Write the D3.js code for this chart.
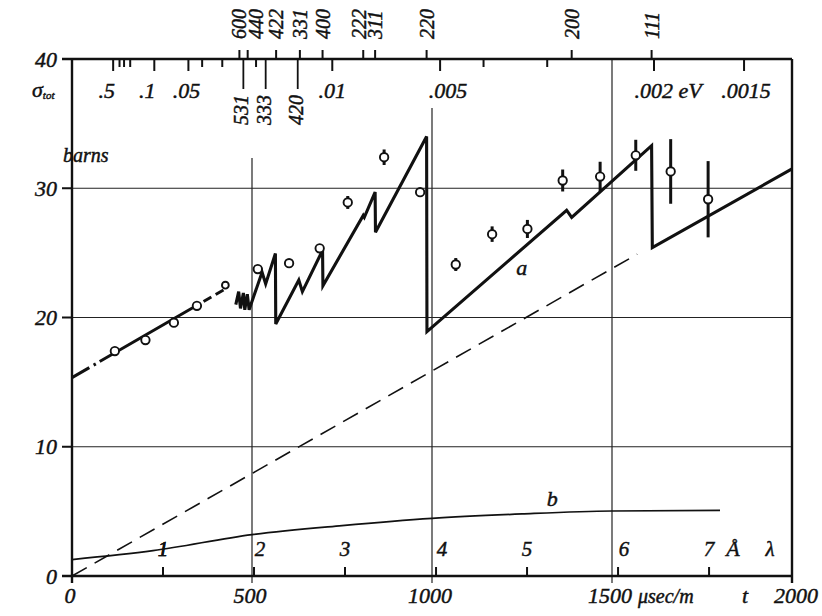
<!DOCTYPE html>
<html>
<head>
<meta charset="utf-8">
<script src="https://cdn.jsdelivr.net/npm/d3@7"></script>
<style>
body { margin: 0; background: #fff; }
text { font-family: "Liberation Serif", "Times New Roman", serif; font-style: italic; fill: #111; }
.heavy { stroke: #111; stroke-width: 0.45px; }
</style>
</head>
<body>
<svg id="chart" width="822" height="616"></svg>
<script>
// measured points: t in usec/m, sigma in barns, error half-length
var pointT   = [119, 204, 283, 347, 426, 516, 603, 688, 766, 867, 967, 1066, 1167, 1265, 1363, 1467, 1566, 1663, 1767];
var pointSig = [17.4, 18.25, 19.6, 20.9, 22.5, 23.75, 24.2, 25.35, 28.9, 32.4, 29.7, 24.1, 26.45, 26.85, 30.6, 30.9, 32.55, 31.3, 29.15];
var pointErr = [0, 0, 0, 0, 0, 0, 0, 0, 0.5, 0.6, 0, 0.5, 0.6, 0.7, 0.85, 1.15, 1.2, 2.5, 2.95];

// curve a: straight start (dash-dot / solid / dashed)
var leadT   = [0, 425];
var leadSig = [15.35, 22.2];

// curve a: sawtooth with Bragg edges
var curveAT   = [455, 463, 468, 476, 480, 487, 492, 528, 538, 565, 566, 630, 640, 696, 697, 809, 812, 842, 843, 985, 986, 1374, 1388, 1610, 1612, 2000];
var curveASig = [21.0, 22.0, 20.7, 21.9, 20.6, 21.8, 20.6, 23.5, 22.6, 24.95, 19.5, 22.9, 22.0, 25.2, 22.45, 27.9, 27.75, 29.7, 26.6, 34.0, 18.9, 28.3, 27.75, 33.3, 25.4, 31.5];

// dashed straight line
var dashT   = [0, 1570];
var dashSig = [0, 24.9];

// curve b
var curveBT   = [0, 225, 500, 750, 1000, 1250, 1500, 1800];
var curveBSig = [1.27, 1.96, 3.2, 3.9, 4.46, 4.8, 5.03, 5.08];

// axes
var yTicks = [0, 10, 20, 30, 40];
var tTicks = [0, 500, 1000, 1500, 2000];
var lambdaTicks = [1, 2, 3, 4, 5, 6, 7];
var usecPerAngstrom = 252.8;

// energy scale on top (eV)
var energyTicks  = [0.4, 0.3, 0.25, 0.2, 0.1, 0.05, 0.04, 0.03, 0.02, 0.01, 0.005, 0.004, 0.003, 0.002, 0.0015];
var energyMajor  = [0.4, 0.1, 0.05, 0.01, 0.005, 0.002, 0.0015];
var energyLabelE = [0.5, 0.1, 0.05, 0.01, 0.005, 0.002, 0.0015];
var energyLabels = [".5", ".1", ".05", ".01", ".005", ".002 eV", ".0015"];

var hklUp    = ["600", "440", "422", "331", "400", "222", "311", "220", "200", "111"];
var hklUpT   = [465, 488, 567, 633, 696, 809, 842, 985, 1388, 1610];
var hklDown  = ["531", "333", "420"];
var hklDownT = [476, 538, 627];

var svg = d3.select("#chart");

var x = d3.scaleLinear().domain([0, 2000]).range([72, 792]);
var y = d3.scaleLinear().domain([0, 40]).range([576, 59]);

// energy (eV) -> t (usec/m)
function eToT(e) { return usecPerAngstrom * 0.286 / Math.sqrt(e); }

// grid
svg.append("g").selectAll("line")
  .data([10, 20, 30]).enter().append("line")
  .attr("x1", x(0)).attr("x2", x(2000))
  .attr("y1", function(d) { return y(d); }).attr("y2", function(d) { return y(d); })
  .attr("stroke", "#222").attr("stroke-width", 1.2);

var vGridTop = { 500: 158, 1000: 108, 1500: 60 };
svg.append("g").selectAll("line")
  .data([500, 1000, 1500]).enter().append("line")
  .attr("x1", function(d) { return x(d); }).attr("x2", function(d) { return x(d); })
  .attr("y1", function(d) { return vGridTop[d]; }).attr("y2", y(0) + 7)
  .attr("stroke", "#222").attr("stroke-width", 1.2);

// frame: left, bottom, top, right
var frame = svg.append("g").attr("stroke", "#111").attr("stroke-width", 2.4);
frame.append("line").attr("x1", x(0)).attr("x2", x(0)).attr("y1", y(40)).attr("y2", y(0) + 7);
frame.append("line").attr("x1", x(0) - 10).attr("x2", x(2000)).attr("y1", y(0)).attr("y2", y(0));
frame.append("line").attr("x1", x(0) - 10).attr("x2", x(2000)).attr("y1", y(40)).attr("y2", y(40));
frame.append("line").attr("x1", x(2000)).attr("x2", x(2000)).attr("y1", y(40)).attr("y2", y(0) + 7);

// y ticks and labels
svg.append("g").selectAll("line")
  .data(yTicks).enter().append("line")
  .attr("x1", x(0) - 10).attr("x2", x(0))
  .attr("y1", function(d) { return y(d); }).attr("y2", function(d) { return y(d); })
  .attr("stroke", "#111").attr("stroke-width", 2);
svg.append("g").selectAll("text")
  .data(yTicks).enter().append("text")
  .attr("class", "heavy")
  .attr("x", 57).attr("y", function(d) { return y(d); }).attr("dy", "0.35em")
  .attr("text-anchor", "end").style("font-size", "22px")
  .text(function(d) { return d; });

svg.append("text").attr("class", "heavy").attr("x", 63).attr("y", 162).style("font-size", "20px").text("barns");
var sig = svg.append("text").attr("class", "heavy").attr("x", 32).attr("y", 97).style("font-size", "22px");
sig.append("tspan").text("σ");
sig.append("tspan").attr("dy", 2).style("font-size", "11px").text("tot");

// t labels
svg.append("g").selectAll("text")
  .data(tTicks).enter().append("text")
  .attr("class", "heavy")
  .attr("x", function(d) { return x(d) + (d === 2000 ? 4 : -2); }).attr("y", 603)
  .attr("text-anchor", "middle").style("font-size", "22px")
  .text(function(d) { return d; });
svg.append("text").attr("class", "heavy").attr("x", 638).attr("y", 603).style("font-size", "20px").text("\u03bcsec/m");
svg.append("text").attr("class", "heavy").attr("x", 745).attr("y", 603).attr("text-anchor", "middle").style("font-size", "22px").text("t");

// lambda ticks and labels
svg.append("g").selectAll("line")
  .data(lambdaTicks).enter().append("line")
  .attr("x1", function(d) { return x(d * usecPerAngstrom); }).attr("x2", function(d) { return x(d * usecPerAngstrom); })
  .attr("y1", y(0) - 9).attr("y2", y(0))
  .attr("stroke", "#111").attr("stroke-width", 2);
svg.append("g").selectAll("text")
  .data(lambdaTicks.filter(function(d) { return d > 1; })).enter().append("text")
  .attr("class", "heavy")
  .attr("x", function(d) { return x(d * usecPerAngstrom) + (d % 2 === 0 ? 6 : 0); }).attr("y", 556)
  .attr("text-anchor", "middle").style("font-size", "21px")
  .text(function(d) { return d; });
svg.append("text").attr("class", "heavy").attr("x", 733).attr("y", 556).attr("text-anchor", "middle").style("font-size", "22px").text("Å");
svg.append("text").attr("class", "heavy").attr("x", 770).attr("y", 556).attr("text-anchor", "middle").style("font-size", "21px").text("λ");

// energy ticks on top
svg.append("g").selectAll("line")
  .data(energyTicks).enter().append("line")
  .attr("x1", function(d) { return x(eToT(d)); }).attr("x2", function(d) { return x(eToT(d)); })
  .attr("y1", y(40)).attr("y2", function(d) { return y(40) + (energyMajor.indexOf(d) >= 0 ? 12 : 8); })
  .attr("stroke", "#111").attr("stroke-width", 2);
var energyDx = [-2, -7, -2, 0, 8, 14, 2];
svg.append("g").selectAll("text")
  .data(energyLabels).enter().append("text")
  .attr("class", "heavy")
  .attr("x", function(d, i) { return x(eToT(energyLabelE[i])) + energyDx[i]; })
  .attr("y", 98).attr("text-anchor", "middle").style("font-size", "22px")
  .text(function(d) { return d; });

// hkl edges above the top axis
var upDx = { "440": 8, "222": -4 };
svg.append("g").selectAll("line")
  .data(hklUpT).enter().append("line")
  .attr("x1", function(d) { return x(d); }).attr("x2", function(d) { return x(d); })
  .attr("y1", y(40) - 9).attr("y2", y(40))
  .attr("stroke", "#111").attr("stroke-width", 2);
svg.append("g").selectAll("text")
  .data(hklUp).enter().append("text")
  .attr("class", "heavy")
  .attr("transform", function(d, i) {
    return "translate(" + (x(hklUpT[i]) + (upDx[d] || 0)) + ",39) rotate(-90)";
  })
  .attr("dy", "0.35em").style("font-size", "20px")
  .text(function(d) { return d; });

// hkl edges below the top axis
svg.append("g").selectAll("line")
  .data(hklDownT).enter().append("line")
  .attr("x1", function(d) { return x(d); }).attr("x2", function(d) { return x(d); })
  .attr("y1", y(40)).attr("y2", y(40) + 30)
  .attr("stroke", "#111").attr("stroke-width", 1.8);
svg.append("g").selectAll("text")
  .data(hklDown).enter().append("text")
  .attr("class", "heavy")
  .attr("transform", function(d, i) {
    return "translate(" + (x(hklDownT[i]) - 2) + ",95) rotate(-90)";
  })
  .attr("dy", "0.35em").attr("text-anchor", "end").style("font-size", "20px")
  .text(function(d) { return d; });

var line = d3.line()
  .x(function(d) { return x(d[0]); })
  .y(function(d) { return y(d[1]); });

// dashed line
svg.append("path")
  .attr("d", line(d3.zip(dashT, dashSig)))
  .attr("fill", "none").attr("stroke", "#111").attr("stroke-width", 1.6)
  .attr("stroke-dasharray", "17,9");

// curve b
svg.append("path")
  .attr("d", d3.line().curve(d3.curveMonotoneX)
    .x(function(d) { return x(d[0]); })
    .y(function(d) { return y(d[1]); })(d3.zip(curveBT, curveBSig)))
  .attr("fill", "none").attr("stroke", "#111").attr("stroke-width", 1.7);

// lambda 1 label sits on b, with a gap in the line
svg.append("text").attr("class", "heavy").attr("x", x(usecPerAngstrom)).attr("y", 556)
  .attr("text-anchor", "middle").style("font-size", "21px")
  .attr("stroke", "#fff").attr("stroke-width", 7).attr("paint-order", "stroke")
  .text("1");
svg.append("text").attr("class", "heavy").attr("x", x(usecPerAngstrom)).attr("y", 556)
  .attr("text-anchor", "middle").style("font-size", "21px")
  .text("1");

// curve a, straight start
svg.append("path")
  .attr("d", line(d3.zip(leadT, leadSig)))
  .attr("fill", "none").attr("stroke", "#111").attr("stroke-width", 3)
  .attr("stroke-dasharray", "20,5,2.5,4.5,114,6,9,5,9,50");

// curve a, sawtooth
svg.append("path")
  .attr("d", line(d3.zip(curveAT, curveASig)))
  .attr("fill", "none").attr("stroke", "#111").attr("stroke-width", 3.1)
  .attr("stroke-linejoin", "miter");

svg.append("text").attr("class", "heavy").attr("x", x(1249)).attr("y", y(23.85)).attr("dy", "0.35em")
  .attr("text-anchor", "middle").style("font-size", "22px").text("a");
svg.append("text").attr("class", "heavy").attr("x", x(1334)).attr("y", y(6.0)).attr("dy", "0.35em")
  .attr("text-anchor", "middle").style("font-size", "22px").text("b");

// error bars
var pts = d3.range(pointT.length).map(function(i) {
  return { t: pointT[i], s: pointSig[i], e: pointErr[i] };
});
svg.append("g").selectAll("line")
  .data(pts.filter(function(d) { return d.e > 0; })).enter().append("line")
  .attr("x1", function(d) { return x(d.t); }).attr("x2", function(d) { return x(d.t); })
  .attr("y1", function(d) { return y(d.s - d.e); }).attr("y2", function(d) { return y(d.s + d.e); })
  .attr("stroke", "#111").attr("stroke-width", 3);

// points
svg.append("g").selectAll("circle")
  .data(pts).enter().append("circle")
  .attr("cx", function(d) { return x(d.t); })
  .attr("cy", function(d) { return y(d.s); })
  .attr("r", function(d, i) { return i === 4 ? 3.4 : 4.2; })
  .attr("fill", "#fff").attr("stroke", "#111").attr("stroke-width", 1.9);
</script>
</body>
</html>
